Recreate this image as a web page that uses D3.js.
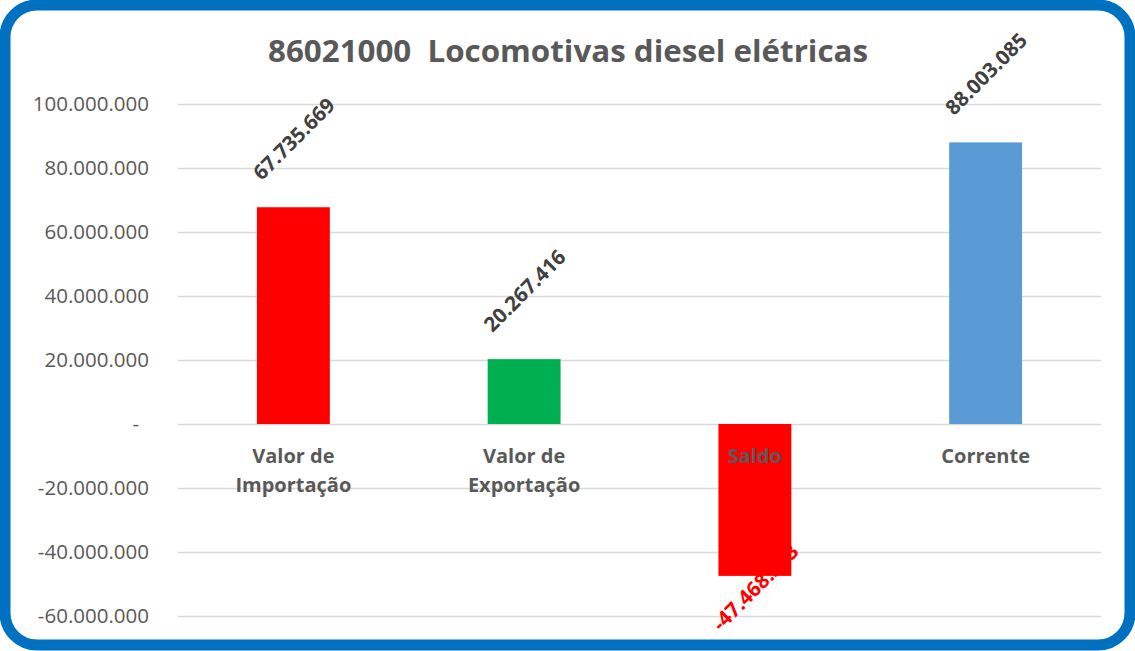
<!DOCTYPE html>
<html>
<head>
<meta charset="utf-8">
<script src="https://cdn.jsdelivr.net/npm/d3@7"></script>
<style>
  body { margin: 0; background: #fff; }
  svg { display: block; font-family: "Open Sans", sans-serif; }
</style>
</head>
<body>
<div id="chart"></div>
<script>
// data
var categories = ["Valor de Importação", "Valor de Exportação", "Saldo", "Corrente"];
var catLines = [["Valor de", "Importação"], ["Valor de", "Exportação"], ["Saldo"], ["Corrente"]];
var values = [67735669, 20267416, -47468253, 88003085];
var barColors = ["#FF0000", "#00B050", "#FF0000", "#5B9BD5"];
var labelColors = ["#404040", "#404040", "#FF0000", "#404040"];
var yTicks = [-60000000, -40000000, -20000000, 0, 20000000, 40000000, 60000000, 80000000, 100000000];
var title = "86021000  Locomotivas diesel elétricas";

var width = 1135, height = 651;
var plotLeft = 178, plotRight = 1101, plotTop = 104, plotBottom = 616;

var ptBR = d3.formatLocale({decimal: ",", thousands: ".", grouping: [3], currency: ["", ""], minus: "-"});
var fmt = ptBR.format(",d");

var svg = d3.select("#chart").append("svg")
    .attr("width", width)
    .attr("height", height);

svg.append("rect")
    .attr("x", 0).attr("y", 0)
    .attr("width", width).attr("height", height)
    .attr("fill", "#fff");

var x = d3.scaleBand().domain(categories).range([plotLeft, plotRight])
    .paddingInner(0.684).paddingOuter(0.342);
var y = d3.scaleLinear().domain([-60000000, 100000000]).range([plotBottom, plotTop]);

// gridlines
svg.append("g")
    .attr("transform", "translate(" + plotLeft + ",0)")
    .call(d3.axisLeft(y).tickValues(yTicks).tickSize(-(plotRight - plotLeft)).tickFormat(""))
    .call(function(g){ g.select(".domain").remove(); })
    .selectAll("line")
    .attr("stroke", "#D9D9D9")
    .attr("stroke-width", 1.5);

// y tick labels
var yAxis = svg.append("g")
    .attr("transform", "translate(" + plotLeft + ",0)")
    .call(d3.axisLeft(y).tickValues(yTicks).tickSize(0).tickPadding(29)
        .tickFormat(function(d){ return d == 0 ? "-" : fmt(d); }));
yAxis.select(".domain").remove();
yAxis.selectAll("text")
    .attr("fill", "#595959")
    .style("font-family", "'Open Sans', sans-serif")
    .style("font-size", "20.5px")
    .attr("dx", function(d){ return d == 0 ? -10 : 0; });

// data labels (behind bars, as in the picture)
svg.selectAll(".dlabel").data(values).enter().append("text")
    .attr("class", "dlabel")
    .attr("transform", function(d, i){
        var cx = x(categories[i]) + x.bandwidth() / 2;
        var cy = d >= 0 ? y(d) - 69 : y(d) + 11;
        return "translate(" + cx + "," + cy + ") rotate(-45)";
    })
    .attr("text-anchor", "middle")
    .attr("dominant-baseline", "central")
    .attr("fill", function(d, i){ return labelColors[i]; })
    .style("font-weight", "bold")
    .style("font-size", "20.5px")
    .text(function(d){ return fmt(d); });

// bars
svg.selectAll(".bar").data(values).enter().append("rect")
    .attr("class", "bar")
    .attr("x", function(d, i){ return x(categories[i]); })
    .attr("width", x.bandwidth())
    .attr("y", function(d){ return y(Math.max(0, d)); })
    .attr("height", function(d){ return Math.abs(y(d) - y(0)); })
    .attr("fill", function(d, i){ return barColors[i]; });

// category labels
var cat = svg.selectAll(".cat").data(catLines).enter().append("text")
    .attr("class", "cat")
    .attr("text-anchor", "middle")
    .attr("fill", "#595959")
    .style("font-weight", "bold")
    .style("font-size", "20px");
cat.selectAll("tspan").data(function(d, i){ return d.map(function(s){ return {s: s, i: i}; }); })
    .enter().append("tspan")
    .attr("x", function(d){ return x(categories[d.i]) + x.bandwidth() / 2; })
    .attr("y", function(d, j){ return 463 + j * 29; })
    .text(function(d){ return d.s; });

// title
svg.append("text")
    .attr("x", 568)
    .attr("y", 62)
    .attr("text-anchor", "middle")
    .attr("fill", "#595959")
    .style("font-weight", "bold")
    .style("font-size", "31px")
    .style("white-space", "pre")
    .attr("textLength", 600)
    .attr("lengthAdjust", "spacingAndGlyphs")
    .text(title);

// blue rounded frame
svg.append("rect")
    .attr("x", 5).attr("y", 5)
    .attr("width", 1125).attr("height", 640)
    .attr("rx", 32)
    .attr("fill", "none")
    .attr("stroke", "#0070C0")
    .attr("stroke-width", 11);
</script>
</body>
</html>
